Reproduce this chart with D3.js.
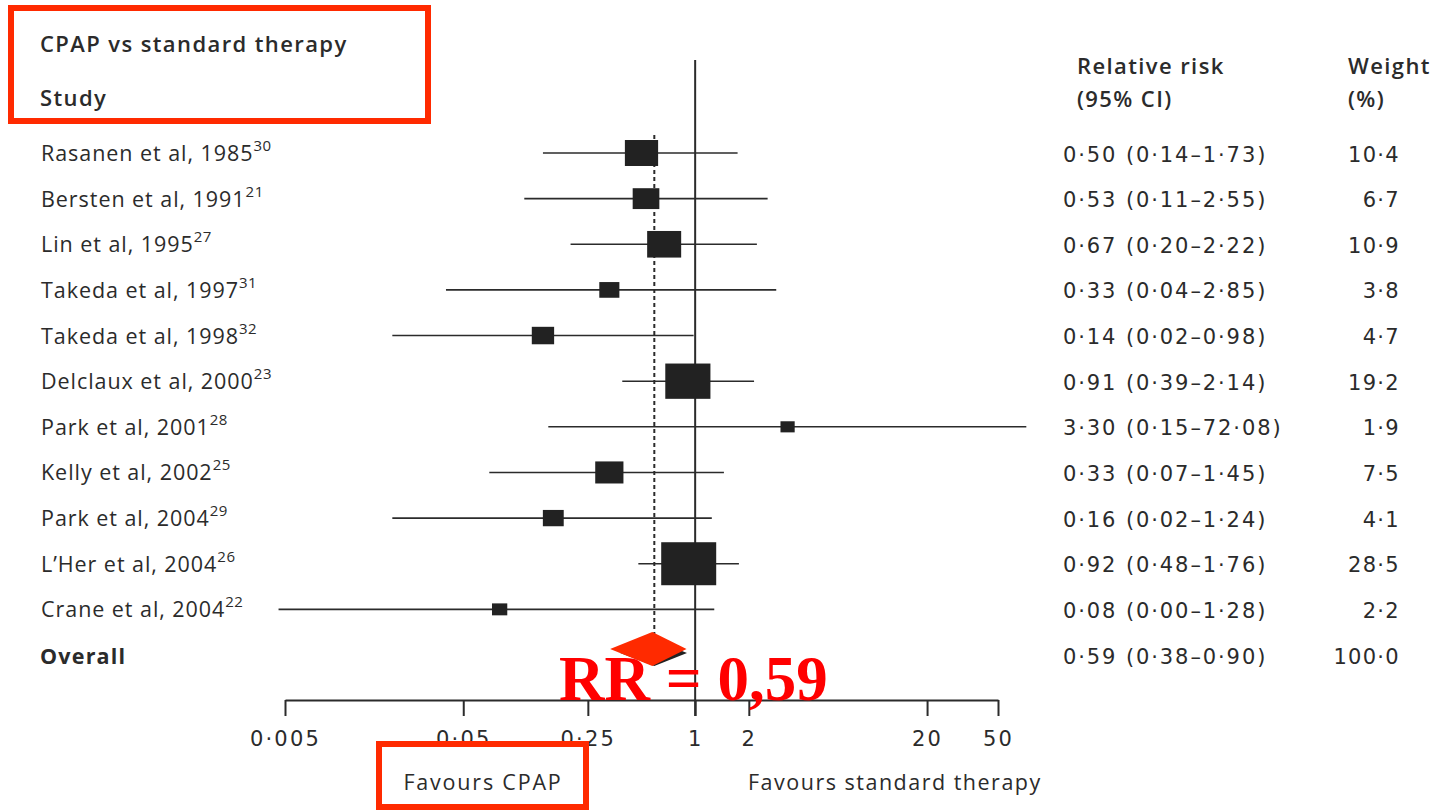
<!DOCTYPE html>
<html>
<head>
<meta charset="utf-8">
<script src="https://cdn.jsdelivr.net/npm/d3@7"></script>
<style>
  body { margin: 0; background: #fff; }
  .t { font-family: 'Open Sans', 'Noto Sans', sans-serif; fill: #2b2b2b; }
  .n { font-family: 'DejaVu Sans', 'Open Sans', sans-serif; fill: #2b2b2b; }
</style>
</head>
<body>
<svg id="chart" width="1445" height="811"></svg>
<script>
(() => {
  const studies = [
    'Rasanen et al, 1985', 'Bersten et al, 1991', 'Lin et al, 1995', 'Takeda et al, 1997',
    'Takeda et al, 1998', 'Delclaux et al, 2000', 'Park et al, 2001', 'Kelly et al, 2002',
    'Park et al, 2004', 'L\u2019Her et al, 2004', 'Crane et al, 2004'
  ]
  const refs = ['30', '21', '27', '31', '32', '23', '28', '25', '29', '26', '22']
  const rr = [0.50, 0.53, 0.67, 0.33, 0.14, 0.91, 3.30, 0.33, 0.16, 0.92, 0.08]
  const ciLow = [0.14, 0.11, 0.20, 0.04, 0.02, 0.39, 0.15, 0.07, 0.02, 0.48, 0.0046]
  const ciHigh = [1.73, 2.55, 2.22, 2.85, 0.98, 2.14, 72.08, 1.45, 1.24, 1.76, 1.28]
  const weights = [10.4, 6.7, 10.9, 3.8, 4.7, 19.2, 1.9, 7.5, 4.1, 28.5, 2.2]
  const overall = { label: 'Overall', rr: 0.59, low: 0.38, high: 0.90, weight: 100.0 }
  const tickValues = [0.005, 0.05, 0.25, 1, 2, 20, 50]

  const svg = d3.select('#chart')
  const dot = s => s.replace(/\./g, '\u00b7')
  const f2 = d3.format('.2f')
  const f1 = d3.format('.1f')
  const ink = '#2b2b2b'

  const x = d3.scaleLog().domain([0.005, 50]).range([285, 998])
  const rows = d3.scalePoint().domain([...studies, overall.label]).range([153, 655])
  const boxW = d3.scaleSqrt().domain([0, 28.5]).range([0, 55])
  const boxH = d3.scaleSqrt().domain([0, 28.5]).range([0, 43])

  const txt = (px, py, s, opts = {}) => svg.append('text')
    .attr('class', opts.cls || 't').attr('x', px).attr('y', py)
    .attr('font-size', opts.size || 21.5)
    .attr('font-weight', opts.weight || 400)
    .attr('letter-spacing', opts.ls == null ? 1.5 : opts.ls)
    .attr('text-anchor', opts.anchor || 'start')
    .text(s)

  // headers
  txt(40, 52, 'CPAP vs standard therapy', { size: 22, weight: 600, ls: 1.4 })
  txt(40, 106, 'Study', { size: 22, weight: 600, ls: 1.4 })
  txt(1077, 74, 'Relative risk', { size: 22, weight: 600, ls: 1.4 })
  txt(1077, 107, '(95% CI)', { size: 22, weight: 600, ls: 1.4 })
  txt(1348, 74, 'Weight', { size: 22, weight: 600, ls: 1.4 })
  txt(1348, 107, '(%)', { size: 22, weight: 600, ls: 1.4 })

  // reference line at 1
  svg.append('line')
    .attr('x1', x(1)).attr('x2', x(1)).attr('y1', 60).attr('y2', 716)
    .attr('stroke', ink).attr('stroke-width', 2)

  // dashed line at overall estimate
  svg.append('line')
    .attr('x1', x(overall.rr)).attr('x2', x(overall.rr))
    .attr('y1', 135).attr('y2', rows(overall.label) - 15)
    .attr('stroke', ink).attr('stroke-width', 2).attr('stroke-dasharray', '4,3')

  const data = studies.map((s, i) => ({
    study: s, ref: refs[i], rr: rr[i], low: ciLow[i], high: ciHigh[i], weight: weights[i]
  }))

  const row = svg.append('g').selectAll('g.row').data(data).join('g').attr('class', 'row')

  row.append('line')
    .attr('x1', d => x(d.low)).attr('x2', d => x(d.high))
    .attr('y1', d => rows(d.study)).attr('y2', d => rows(d.study))
    .attr('stroke', ink).attr('stroke-width', 1.6)

  row.append('rect')
    .attr('x', d => x(d.rr) - boxW(d.weight) / 2)
    .attr('y', d => rows(d.study) - boxH(d.weight) / 2)
    .attr('width', d => boxW(d.weight))
    .attr('height', d => boxH(d.weight))
    .attr('fill', '#222')

  const label = row.append('text').attr('class', 't')
    .attr('x', 41).attr('y', d => rows(d.study) + 8).attr('font-size', 21.5)
    .attr('letter-spacing', 0.95)
  label.append('tspan').text(d => d.study)
  label.append('tspan').attr('font-size', 15).attr('dy', -10).attr('letter-spacing', 0.5).text(d => d.ref)

  row.append('text').attr('class', 'n')
    .attr('x', 1063).attr('y', d => rows(d.study) + 8.5).attr('font-size', 21)
    .attr('letter-spacing', 1.9)
    .text(d => dot(`${f2(d.rr)} (${f2(d.low)}\u2013${f2(d.high)})`))

  row.append('text').attr('class', 'n')
    .attr('x', 1400).attr('y', d => rows(d.study) + 8.5).attr('font-size', 21)
    .attr('letter-spacing', 1.3).attr('text-anchor', 'end')
    .text(d => dot(f1(d.weight)))

  // overall row
  const oy = rows(overall.label)
  txt(40, oy + 9, overall.label, { weight: 700, ls: 1.2 })
  txt(1063, oy + 9, dot(`${f2(overall.rr)} (${f2(overall.low)}\u2013${f2(overall.high)})`),
    { cls: 'n', size: 21, ls: 1.9 })
  txt(1400, oy + 9, dot(f1(overall.weight)), { cls: 'n', size: 21, ls: 1.3, anchor: 'end' })

  const diamond = (lo, mid, hi, cy, h) =>
    `M${x(lo)},${cy} L${x(mid)},${cy - h} L${x(hi)},${cy} L${x(mid)},${cy + h} Z`
  svg.append('path').attr('d', diamond(overall.low, overall.rr, overall.high, oy - 2, 13))
    .attr('fill', '#222')
  // red highlight drawn over the original diamond
  svg.append('path').attr('d', diamond(overall.low * 0.9, overall.rr, overall.high * 1.02, oy - 6, 17))
    .attr('transform', 'translate(-2,0)')
    .attr('fill', '#ff2a00')

  // x axis
  const axis = svg.append('g')
    .attr('transform', 'translate(0,700)')
    .call(d3.axisBottom(x).tickValues(tickValues).tickSize(16).tickSizeOuter(0)
      .tickFormat(d => dot(String(d))))
  axis.select('.domain').attr('stroke', ink).attr('stroke-width', 2)
  axis.selectAll('.tick line').attr('stroke', ink).attr('stroke-width', 2)
  axis.selectAll('.tick text')
    .attr('class', 'n')
    .attr('font-size', 21).attr('letter-spacing', 2.2)
    .attr('dy', '1.3em')

  txt(483, 790, 'Favours CPAP', { anchor: 'middle', ls: 1.8 })
  txt(748, 790, 'Favours standard therapy', { ls: 1.5 })

  // annotation
  svg.append('text').attr('x', 559).attr('y', 700)
    .style('font-family', "'Liberation Serif', 'Times New Roman', serif")
    .style('font-weight', 700).style('font-size', '63px')
    .style('fill', '#ff0000')
    .text('RR = 0,59')

  svg.append('rect').attr('x', 11).attr('y', 8).attr('width', 417).attr('height', 113)
    .attr('fill', 'none').attr('stroke', '#ff2a00').attr('stroke-width', 6)
  svg.append('rect').attr('x', 379).attr('y', 744).attr('width', 207).attr('height', 63)
    .attr('fill', 'none').attr('stroke', '#ff2a00').attr('stroke-width', 6)
})()
</script>
</body>
</html>
